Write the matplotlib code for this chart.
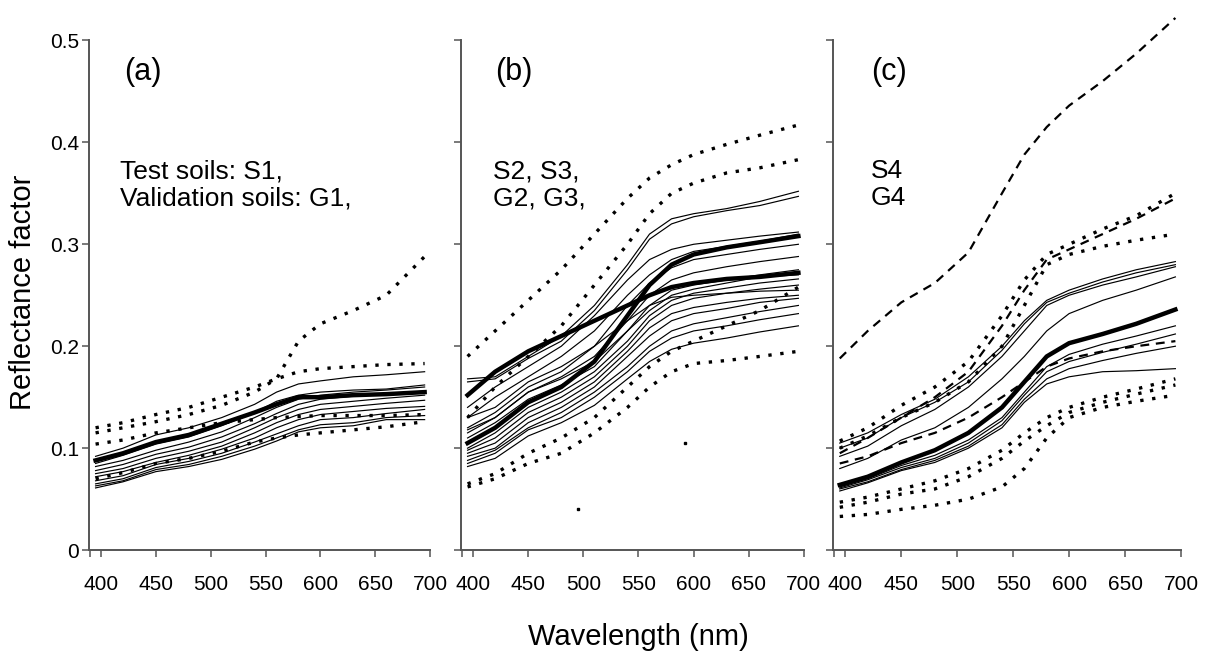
import matplotlib
matplotlib.use("Agg")
import matplotlib.pyplot as plt

plt.rcParams['font.family'] = ['Liberation Sans', 'DejaVu Sans']

# wavelengths (nm) at which the spectra were read
wl = [395, 420, 450, 480, 510, 540, 560, 580, 600, 630, 660, 695]

# ---- panel (a): S1 / G1 ----
a_thick = [[0.088, 0.095, 0.106, 0.113, 0.124, 0.135, 0.143, 0.150, 0.150, 0.152, 0.153, 0.155]]
a_thin = [
    [0.092, 0.100, 0.113, 0.120, 0.130, 0.143, 0.155, 0.163, 0.166, 0.170, 0.172, 0.175],
    [0.085, 0.093, 0.104, 0.111, 0.122, 0.135, 0.146, 0.152, 0.155, 0.157, 0.158, 0.162],
    [0.082, 0.088, 0.098, 0.106, 0.116, 0.130, 0.140, 0.148, 0.152, 0.155, 0.157, 0.160],
    [0.078, 0.084, 0.094, 0.101, 0.111, 0.124, 0.134, 0.143, 0.148, 0.151, 0.153, 0.156],
    [0.075, 0.080, 0.090, 0.097, 0.106, 0.120, 0.130, 0.138, 0.143, 0.146, 0.149, 0.152],
    [0.072, 0.077, 0.086, 0.093, 0.102, 0.115, 0.125, 0.133, 0.138, 0.141, 0.144, 0.147],
    [0.068, 0.073, 0.084, 0.090, 0.099, 0.110, 0.120, 0.128, 0.133, 0.136, 0.139, 0.141],
    [0.065, 0.070, 0.081, 0.087, 0.095, 0.106, 0.114, 0.122, 0.128, 0.130, 0.134, 0.138],
    [0.063, 0.068, 0.079, 0.084, 0.092, 0.102, 0.110, 0.118, 0.123, 0.125, 0.130, 0.132],
    [0.061, 0.067, 0.077, 0.082, 0.089, 0.099, 0.107, 0.116, 0.120, 0.122, 0.128, 0.128],
]
a_dotted = [
    [0.120, 0.125, 0.133, 0.140, 0.150, 0.160, 0.168, 0.175, 0.178, 0.180, 0.182, 0.183],
    [0.115, 0.120, 0.126, 0.133, 0.142, 0.155, 0.168, 0.205, 0.222, 0.235, 0.250, 0.288],
    [0.104, 0.108, 0.115, 0.120, 0.125, 0.128, 0.130, 0.131, 0.132, 0.132, 0.132, 0.133],
    [0.070, 0.076, 0.085, 0.090, 0.097, 0.106, 0.110, 0.113, 0.115, 0.118, 0.121, 0.126],
]

# ---- panel (b): S2, S3 / G2, G3 ----
b_thick = [
    [0.152, 0.175, 0.195, 0.210, 0.225, 0.240, 0.250, 0.258, 0.262, 0.266, 0.268, 0.272],
    [0.105, 0.120, 0.145, 0.160, 0.185, 0.230, 0.260, 0.280, 0.290, 0.297, 0.302, 0.308],
]
b_thin = [
    [0.168, 0.170, 0.190, 0.210, 0.240, 0.280, 0.310, 0.325, 0.330, 0.335, 0.342, 0.352],
    [0.165, 0.168, 0.188, 0.205, 0.235, 0.275, 0.305, 0.320, 0.327, 0.333, 0.338, 0.347],
    [0.140, 0.160, 0.180, 0.200, 0.230, 0.265, 0.285, 0.295, 0.300, 0.304, 0.308, 0.312],
    [0.130, 0.150, 0.170, 0.190, 0.215, 0.250, 0.270, 0.285, 0.293, 0.298, 0.303, 0.310],
    [0.120, 0.135, 0.160, 0.175, 0.200, 0.240, 0.262, 0.277, 0.285, 0.290, 0.295, 0.300],
    [0.115, 0.130, 0.155, 0.170, 0.190, 0.225, 0.250, 0.265, 0.272, 0.278, 0.283, 0.288],
    [0.130, 0.140, 0.165, 0.180, 0.200, 0.225, 0.240, 0.248, 0.250, 0.252, 0.254, 0.255],
    [0.118, 0.130, 0.155, 0.168, 0.185, 0.215, 0.235, 0.250, 0.256, 0.262, 0.268, 0.270],
    [0.110, 0.125, 0.148, 0.162, 0.180, 0.215, 0.240, 0.255, 0.260, 0.265, 0.270, 0.275],
    [0.100, 0.115, 0.140, 0.155, 0.175, 0.205, 0.230, 0.245, 0.252, 0.257, 0.262, 0.266],
    [0.098, 0.110, 0.135, 0.150, 0.170, 0.200, 0.225, 0.240, 0.247, 0.252, 0.256, 0.260],
    [0.095, 0.105, 0.130, 0.145, 0.165, 0.195, 0.218, 0.232, 0.238, 0.243, 0.247, 0.250],
    [0.092, 0.100, 0.125, 0.140, 0.160, 0.190, 0.210, 0.225, 0.232, 0.237, 0.243, 0.247],
    [0.088, 0.098, 0.120, 0.135, 0.155, 0.180, 0.200, 0.215, 0.222, 0.228, 0.234, 0.240],
    [0.085, 0.095, 0.118, 0.130, 0.150, 0.175, 0.195, 0.208, 0.215, 0.220, 0.226, 0.232],
    [0.082, 0.090, 0.112, 0.125, 0.142, 0.168, 0.185, 0.197, 0.203, 0.208, 0.214, 0.220],
]
b_dotted = [
    [0.190, 0.215, 0.245, 0.275, 0.310, 0.345, 0.365, 0.378, 0.388, 0.398, 0.407, 0.417],
    [0.130, 0.160, 0.190, 0.220, 0.260, 0.300, 0.330, 0.350, 0.360, 0.370, 0.375, 0.383],
    [0.065, 0.075, 0.095, 0.110, 0.130, 0.160, 0.180, 0.195, 0.205, 0.220, 0.235, 0.258],
    [0.062, 0.070, 0.085, 0.095, 0.115, 0.140, 0.160, 0.175, 0.183, 0.186, 0.190, 0.195],
]
b_stray_wl = [495, 592]
b_stray_val = [0.040, 0.105]

# ---- panel (c): S4 / G4 ----
c_thick = [[0.064, 0.072, 0.086, 0.098, 0.115, 0.140, 0.165, 0.190, 0.203, 0.212, 0.222, 0.236]]
c_thin = [
    [0.105, 0.115, 0.133, 0.148, 0.170, 0.200, 0.225, 0.245, 0.255, 0.266, 0.275, 0.283],
    [0.100, 0.110, 0.130, 0.145, 0.165, 0.196, 0.222, 0.243, 0.252, 0.263, 0.272, 0.280],
    [0.092, 0.102, 0.122, 0.138, 0.160, 0.190, 0.215, 0.240, 0.250, 0.260, 0.268, 0.278],
    [0.080, 0.090, 0.108, 0.120, 0.140, 0.168, 0.190, 0.215, 0.232, 0.245, 0.255, 0.268],
    [0.062, 0.070, 0.083, 0.093, 0.108, 0.130, 0.155, 0.180, 0.192, 0.202, 0.210, 0.220],
    [0.061, 0.069, 0.081, 0.090, 0.105, 0.127, 0.152, 0.175, 0.185, 0.194, 0.202, 0.212],
    [0.060, 0.067, 0.079, 0.088, 0.102, 0.123, 0.148, 0.168, 0.178, 0.186, 0.193, 0.200],
    [0.058, 0.066, 0.078, 0.086, 0.100, 0.120, 0.145, 0.163, 0.170, 0.175, 0.176, 0.178],
]
c_dashed = [
    [0.188, 0.215, 0.243, 0.262, 0.292, 0.350, 0.388, 0.415, 0.436, 0.460, 0.487, 0.522],
    [0.095, 0.110, 0.130, 0.150, 0.175, 0.220, 0.255, 0.285, 0.295, 0.310, 0.325, 0.345],
    [0.085, 0.092, 0.105, 0.115, 0.130, 0.150, 0.165, 0.180, 0.188, 0.195, 0.200, 0.205],
]
c_dotted = [
    [0.107, 0.120, 0.142, 0.160, 0.185, 0.230, 0.265, 0.290, 0.300, 0.315, 0.328, 0.350],
    [0.100, 0.112, 0.130, 0.145, 0.165, 0.200, 0.240, 0.280, 0.290, 0.298, 0.304, 0.310],
    [0.047, 0.052, 0.060, 0.068, 0.080, 0.098, 0.115, 0.130, 0.140, 0.150, 0.158, 0.168],
    [0.042, 0.047, 0.055, 0.060, 0.072, 0.090, 0.107, 0.122, 0.135, 0.145, 0.153, 0.162],
    [0.033, 0.035, 0.040, 0.044, 0.050, 0.062, 0.080, 0.110, 0.130, 0.140, 0.146, 0.152],
]

panel_tags = ['(a)', '(b)', '(c)']
panel_notes = ['Test soils: S1,\nValidation soils: G1,', 'S2, S3,\nG2, G3,', 'S4\nG4']
tag_x = [0.103, 0.099, 0.109]
note_x = [0.091, 0.093, 0.109]
x_ticks = [390, 400, 450, 500, 550, 600, 650, 700]
x_labels = ['', '400', '450', '500', '550', '600', '650', '700']
y_ticks = [0, 0.1, 0.2, 0.3, 0.4, 0.5]
y_labels = ['0', '0.1', '0.2', '0.3', '0.4', '0.5']

fig = plt.figure(figsize=(12.14, 6.62), dpi=100)
rects = [[0.0733, 0.169, 0.281, 0.770],
         [0.3797, 0.169, 0.2825, 0.770],
         [0.6862, 0.169, 0.2866, 0.770]]
axes = [fig.add_axes(r) for r in rects]

groups = [
    (a_thin, a_thick, [], a_dotted),
    (b_thin, b_thick, [], b_dotted),
    (c_thin, c_thick, c_dashed, c_dotted),
]

for i, ax in enumerate(axes):
    thin, thick, dashed, dotted = groups[i]
    for s in thin:
        ax.plot(wl, s, color='black', lw=0.85, clip_on=False)
    for s in dotted:
        ax.plot(wl, s, color='black', lw=2.4, ls=(0, (1, 2.6)), clip_on=False)
    for s in dashed:
        ax.plot(wl, s, color='black', lw=1.6, ls=(0, (4, 3)), clip_on=False)
    for s in thick:
        ax.plot(wl, s, color='black', lw=3.2, clip_on=False)

    ax.set_xlim(389, 700)
    ax.set_ylim(0, 0.5)
    for side in ['top', 'right']:
        ax.spines[side].set_visible(False)
    for side in ['left', 'bottom']:
        ax.spines[side].set_color('#555555')
        ax.spines[side].set_linewidth(1.4)
    ax.set_xticks(x_ticks)
    ax.set_xticklabels(x_labels)
    ax.set_yticks(y_ticks)
    if i == 0:
        ax.set_yticklabels(y_labels)
    else:
        ax.set_yticklabels([])
    ax.tick_params(direction='out', length=5, width=1.1, color='#555555', labelsize=15)
    ax.tick_params(axis='x', pad=13)
    ax.tick_params(axis='y', pad=2)
    ax.text(tag_x[i], 0.937, panel_tags[i], transform=ax.transAxes, fontsize=22, va='center')
    ax.text(note_x[i], 0.717, panel_notes[i], transform=ax.transAxes, fontsize=19,
            va='center', linespacing=1.15)

axes[1].plot(b_stray_wl, b_stray_val, ls='none', marker='s', ms=2, color='black')

fig.text(0.019, 0.559, 'Reflectance factor', rotation=90, fontsize=21,
         ha='center', va='center')
fig.text(0.526, 0.038, 'Wavelength (nm)', fontsize=21, ha='center', va='center')

fig.savefig('out.png', dpi=100)
